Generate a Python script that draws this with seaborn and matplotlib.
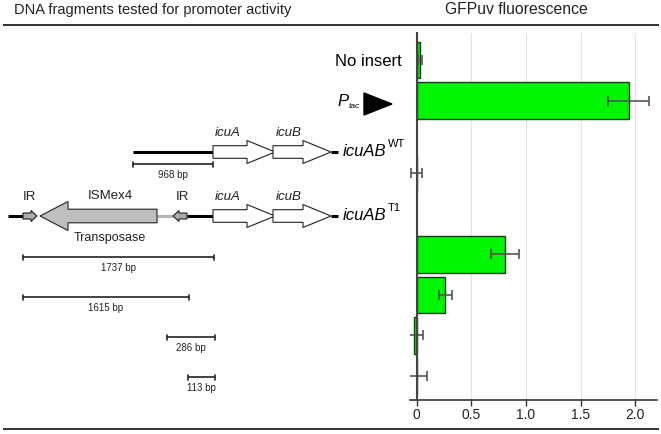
import numpy as np
import pandas as pd
import seaborn as sns
import matplotlib.pyplot as plt
from matplotlib.patches import Polygon

# data
constructs = ['No insert', 'Ptac', 'icuAB WT', '1737 bp', '1615 bp', '286 bp', '113 bp']
gfp_mean = [0.03, 1.94, 0.0, 0.81, 0.26, -0.02, 0.005]
gfp_err = [0.02, 0.19, 0.05, 0.125, 0.06, 0.08, 0.09]
fragment_labels = ['968 bp', '1737 bp', '1615 bp', '286 bp', '113 bp']
tick_vals = [0, 0.5, 1.0, 1.5, 2.0]
tick_labels = ['0', '0.5', '1.0', '1.5', '2.0']

# row layout (row units, one unit ~ one bar slot)
row_pos = [0, 1, 2.8, 4.8, 5.8, 6.8, 7.8]

sns.set_theme(style="white")
plt.rcParams['font.family'] = ['Liberation Sans', 'DejaVu Sans']

W, H = 661, 434
fig = plt.figure(figsize=(W / 100, H / 100), dpi=100)

# overlay in pixel coordinates for the gene diagram
ov = fig.add_axes([0, 0, 1, 1])
ov.set_xlim(0, W)
ov.set_ylim(H, 0)
ov.axis('off')

dark = '#222222'


def hline(x0, x1, y, lw=1.3, color=dark):
    ov.plot([x0, x1], [y, y], color=color, lw=lw, solid_capstyle='butt')


def arrow(x0, x1, y, body, head, head_len, face='white', left=False):
    if not left:
        xb = x1 - head_len
        pts = [(x0, y - body), (xb, y - body), (xb, y - head), (x1, y),
               (xb, y + head), (xb, y + body), (x0, y + body)]
    else:
        xb = x0 + head_len
        pts = [(x1, y - body), (xb, y - body), (xb, y - head), (x0, y),
               (xb, y + head), (xb, y + body), (x1, y + body)]
    ov.add_patch(Polygon(pts, closed=True, facecolor=face, edgecolor=dark, lw=0.8, zorder=3))


def scale_bar(x0, x1, y, label):
    hline(x0, x1, y, lw=1.2)
    ov.plot([x0, x0], [y - 2.5, y + 2.5], color=dark, lw=1.2)
    ov.plot([x1, x1], [y - 2.5, y + 2.5], color=dark, lw=1.2)
    ov.text((x0 + x1) / 2, y + 11, label, ha='center', va='center', fontsize=7, color=dark)


# frame lines and headings
hline(3, 659, 25, lw=1.3)
hline(3, 659, 429, lw=1.3)
ov.text(153, 10, 'DNA fragments tested for promoter activity', ha='center', va='center',
        fontsize=10.5, color=dark)
ov.text(516, 10, 'GFPuv fluorescence', ha='center', va='center', fontsize=11.3, color=dark)

# row labels
ov.text(402, 61, 'No insert', ha='right', va='center', fontsize=12, color='black')
ov.text(337, 101, 'P', ha='left', va='center', fontsize=12, style='italic', color='black')
ov.text(349, 106, 'tac', ha='left', va='center', fontsize=6, style='italic', color='black')
ov.add_patch(Polygon([(364, 93), (364, 115), (392, 104)], closed=True, facecolor='black', edgecolor='black'))

# WT row
yw = 152
hline(133, 213, yw, lw=2.2, color='black')
arrow(213, 275, yw, 6.3, 11.5, 28)
arrow(273, 331, yw, 6.3, 11.5, 28)
hline(331, 338, yw, lw=2.2, color='black')
ov.text(228, 133, 'icuA', ha='center', va='center', fontsize=9.5, style='italic', color=dark)
ov.text(289, 133, 'icuB', ha='center', va='center', fontsize=9.5, style='italic', color=dark)
ov.text(343, yw, 'icuAB', ha='left', va='center', fontsize=12, style='italic', color='black')
ov.text(388, yw - 8, 'WT', ha='left', va='center', fontsize=8, color='black')
scale_bar(133, 213, 164, fragment_labels[0])

# T1 row
yt = 216
hline(8, 24, yt, lw=2.2, color='black')
arrow(23, 37, yt, 3, 5.5, 6, face='#aaaaaa')
arrow(40, 157, yt, 6.8, 14.5, 28, face='#bfbfbf', left=True)
hline(157, 173, yt, lw=2.2, color='#b5b5b5')
arrow(173, 187, yt, 3, 5.5, 6, face='#aaaaaa', left=True)
hline(187, 213, yt, lw=2.2, color='black')
arrow(213, 275, yt, 6.3, 11.5, 28)
arrow(273, 331, yt, 6.3, 11.5, 28)
hline(331, 338, yt, lw=2.2, color='black')
ov.text(29, 197, 'IR', ha='center', va='center', fontsize=9.5, color=dark)
ov.text(182, 197, 'IR', ha='center', va='center', fontsize=9.5, color=dark)
ov.text(110, 196, 'ISMex4', ha='center', va='center', fontsize=9.5, color=dark)
ov.text(110, 238, 'Transposase', ha='center', va='center', fontsize=9, color=dark)
ov.text(228, 197, 'icuA', ha='center', va='center', fontsize=9.5, style='italic', color=dark)
ov.text(289, 197, 'icuB', ha='center', va='center', fontsize=9.5, style='italic', color=dark)
ov.text(343, yt, 'icuAB', ha='left', va='center', fontsize=12, style='italic', color='black')
ov.text(388, yt - 8, 'T1', ha='left', va='center', fontsize=8, color='black')

scale_bar(23, 214, 257, fragment_labels[1])
scale_bar(23, 189, 297, fragment_labels[2])
scale_bar(167, 215, 337, fragment_labels[3])
scale_bar(188, 215, 377, fragment_labels[4])

# bar chart
df = pd.DataFrame({'construct': constructs, 'gfp': gfp_mean, 'err': gfp_err, 'row': row_pos})
ax = fig.add_axes([410 / W, 1 - 400 / H, 247 / W, 367 / H])
ax.patch.set_alpha(0)
sns.barplot(data=df, x='gfp', y='row', orient='h', native_scale=True, width=0.9,
            color='#00f500', saturation=1, edgecolor='#1d3a1d', linewidth=1,
            errorbar=None, ax=ax, zorder=3)
ax.errorbar(df['gfp'], df['row'], xerr=df['err'], fmt='none', ecolor='#555555',
            elinewidth=1.2, capsize=3.6, capthick=1.2, zorder=4)

ax.set_xlim(-0.061, 2.2)
ax.set_ylim(8.395, -0.667)
ax.set_xticks(tick_vals)
ax.set_xticklabels(tick_labels, fontsize=10, color=dark)
ax.set_yticks([])
ax.set_xlabel('')
ax.set_ylabel('')
ax.grid(axis='x', color='#e2e2e2', lw=0.8, zorder=0)
ax.set_axisbelow(True)
for s in ['top', 'right']:
    ax.spines[s].set_visible(False)
ax.spines['left'].set_position(('data', 0))
ax.spines['left'].set_color('#444444')
ax.spines['left'].set_linewidth(1.5)
ax.spines['left'].set_zorder(5)
ax.spines['bottom'].set_color('#333333')
ax.spines['bottom'].set_linewidth(1.2)
ax.tick_params(axis='x', direction='out', length=4, width=1, color='#333333', pad=2, bottom=True)

fig.savefig('out.png', dpi=100)
